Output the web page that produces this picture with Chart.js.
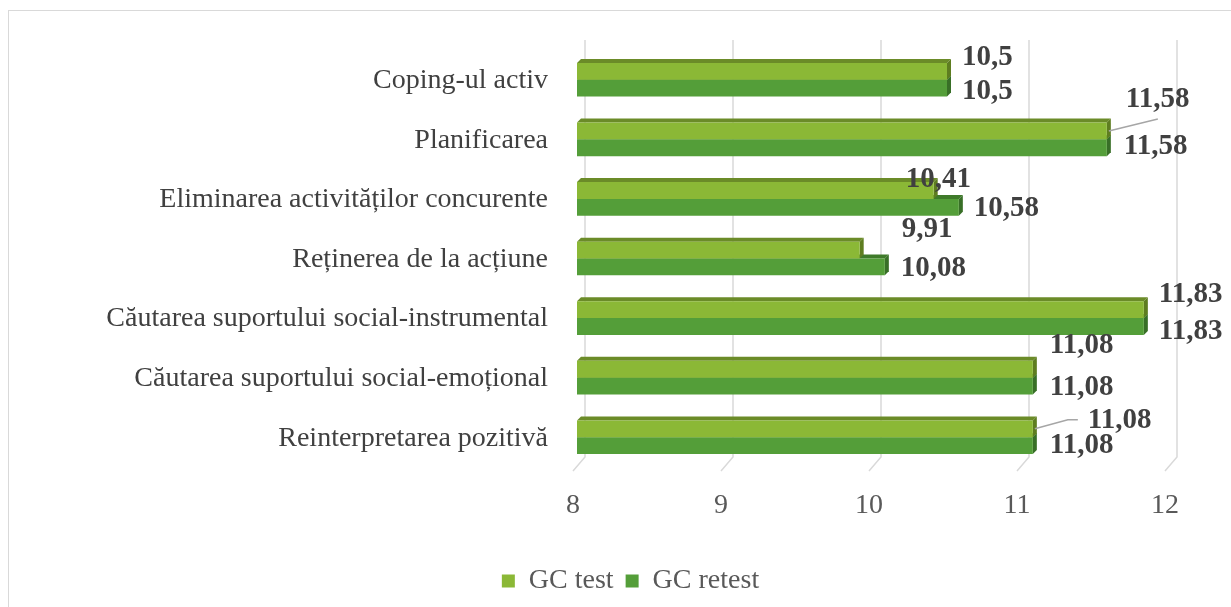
<!DOCTYPE html>
<html>
<head>
<meta charset="utf-8">
<script src="https://cdn.jsdelivr.net/npm/chart.js@4.4.0/dist/chart.umd.min.js"></script>
<style>
  html, body { margin: 0; padding: 0; background: #fff; }
  #wrap { width: 1231px; height: 607px; position: relative; }
</style>
</head>
<body>
<div id="wrap"><canvas id="copingChart"></canvas></div>
<script>
const categories = [
    'Coping-ul activ',
    'Planificarea',
    'Eliminarea activităților concurente',
    'Reținerea de la acțiune',
    'Căutarea suportului social-instrumental',
    'Căutarea suportului social-emoțional',
    'Reinterpretarea pozitivă'
];
const gcTest = [10.5, 11.58, 10.41, 9.91, 11.83, 11.08, 11.08];
const gcRetest = [10.5, 11.58, 10.58, 10.08, 11.83, 11.08, 11.08];
const xTicks = [8, 9, 10, 11, 12];

// label nudges [dx, dy] from the bar end / bar centre (Excel moved some to avoid overlaps)
const nudgeTest = [[15, -14], [19, -31], [-28, -11], [42, -21], [15, -15], [17, -24], [55, -8]];
const nudgeRetest = [[15, 3], [17, -1], [15, 1], [16, 2], [15, 5], [17, 1], [17, 0]];
// leader line end points, relative to the label's left/middle
const leaders = { 1: [[32, 19]], 6: [[-20, -1], [-10, -1]] };

const SERIF = "'Liberation Serif', 'Times New Roman', serif";
Chart.defaults.font.family = SERIF;

const faceColors = [
    { front: '#8bb836', top: '#6b8b28', side: '#5e7d20' },
    { front: '#549e39', top: '#3f7a2a', side: '#386f27' }
];
const DEPTH = 4;

const frame = {
    id: 'frame',
    beforeDraw(chart) {
        const c = chart.ctx;
        c.save();
        c.strokeStyle = '#d9d9d9';
        c.lineWidth = 1;
        c.strokeRect(8.5, 10.5, 1400, 800);
        c.restore();
    }
};

// back-wall style grid: vertical lines shifted back, with a slanted foot
const wallGrid = {
    id: 'wallGrid',
    beforeDatasetsDraw(chart) {
        const c = chart.ctx;
        const area = chart.chartArea;
        const xs = chart.scales.x;
        c.save();
        c.strokeStyle = '#d9d9d9';
        c.lineWidth = 1.5;
        xTicks.forEach(v => {
            const x = xs.getPixelForValue(v);
            c.beginPath();
            c.moveTo(x + 8, area.top - 10);
            c.lineTo(x + 8, area.bottom - 10);
            c.lineTo(x - 4, area.bottom + 4);
            c.stroke();
        });
        // 3D faces of the bars (retest first, test on top)
        [1, 0].forEach(di => {
            const meta = chart.getDatasetMeta(di);
            const col = faceColors[di];
            meta.data.forEach(bar => {
                const p = bar.getProps(['x', 'y', 'base', 'height'], true);
                const left = Math.max(p.base, area.left);
                const top = p.y - p.height / 2;
                const bottom = p.y + p.height / 2;
                c.fillStyle = col.top;
                c.beginPath();
                c.moveTo(left, top);
                c.lineTo(left + DEPTH, top - DEPTH);
                c.lineTo(p.x + DEPTH, top - DEPTH);
                c.lineTo(p.x, top);
                c.closePath();
                c.fill();
                c.fillStyle = col.side;
                c.beginPath();
                c.moveTo(p.x, top);
                c.lineTo(p.x + DEPTH, top - DEPTH);
                c.lineTo(p.x + DEPTH, bottom - DEPTH);
                c.lineTo(p.x, bottom);
                c.closePath();
                c.fill();
            });
        });
        c.restore();
    }
};

const valueLabels = {
    id: 'valueLabels',
    afterDatasetsDraw(chart) {
        const c = chart.ctx;
        c.save();
        c.font = 'bold 29px ' + SERIF;
        c.fillStyle = '#404040';
        c.textAlign = 'left';
        c.textBaseline = 'middle';
        [0, 1].forEach(di => {
            const meta = chart.getDatasetMeta(di);
            const values = chart.data.datasets[di].data;
            const nudges = di === 0 ? nudgeTest : nudgeRetest;
            meta.data.forEach((bar, i) => {
                const tx = bar.x + nudges[i][0];
                const ty = bar.y + nudges[i][1];
                if (di === 0 && leaders[i]) {
                    c.strokeStyle = '#a6a6a6';
                    c.lineWidth = 1.5;
                    c.beginPath();
                    c.moveTo(bar.x + 2, bar.y);
                    leaders[i].forEach(pt => c.lineTo(tx + pt[0], ty + pt[1]));
                    c.stroke();
                }
                c.fillText(String(values[i]).replace('.', ','), tx, ty);
            });
        });
        c.restore();
    }
};

const ctx = document.getElementById('copingChart').getContext('2d');

const copingChart = new Chart(ctx, {
    type: 'bar',
    data: {
        labels: categories,
        datasets: [{
            label: 'GC test',
            data: gcTest,
            backgroundColor: faceColors[0].front,
            borderWidth: 0,
            barPercentage: 1,
            categoryPercentage: 0.565
        }, {
            label: 'GC retest',
            data: gcRetest,
            backgroundColor: faceColors[1].front,
            borderWidth: 0,
            barPercentage: 1,
            categoryPercentage: 0.565
        }]
    },
    options: {
        indexAxis: 'y',
        responsive: true,
        maintainAspectRatio: false,
        animation: false,
        layout: { padding: { top: 50, right: 62, left: 92, bottom: 2 } },
        plugins: {
            legend: {
                position: 'bottom',
                labels: {
                    color: '#595959',
                    font: { size: 28 },
                    boxWidth: 13,
                    boxHeight: 13,
                    padding: 12
                }
            },
            tooltip: { enabled: false }
        },
        scales: {
            x: {
                min: 8,
                max: 12,
                grid: { display: false },
                border: { display: false },
                afterFit(scale) { scale.height = 88; },
                afterBuildTicks(scale) { scale.ticks = xTicks.map(v => ({ value: v })); },
                ticks: { color: '#595959', font: { size: 28 }, padding: 14, labelOffset: -4 }
            },
            y: {
                grid: { display: false, drawTicks: false },
                border: { display: false },
                afterFit(scale) { scale.width = 485; },
                ticks: { color: '#404040', font: { size: 28 }, padding: 29, labelOffset: 1 }
            }
        }
    },
    plugins: [frame, wallGrid, valueLabels]
});
</script>
</body>
</html>
